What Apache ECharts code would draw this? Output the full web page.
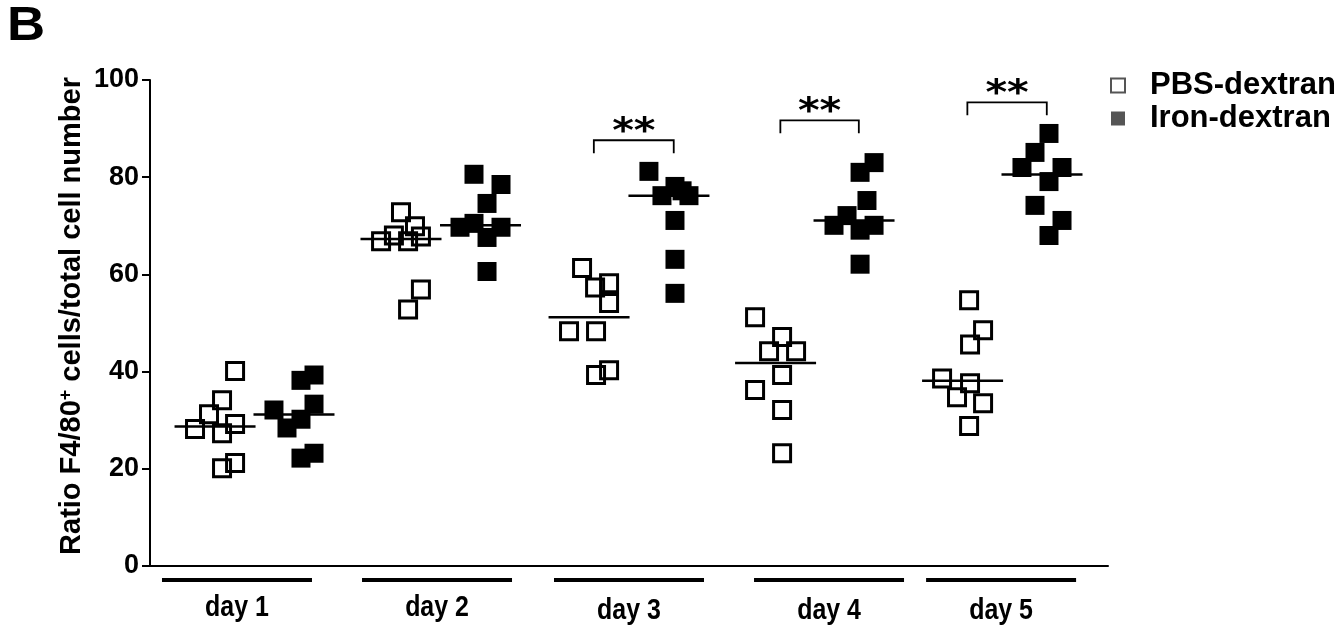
<!DOCTYPE html>
<html>
<head>
<meta charset="utf-8">
<script src="https://cdn.jsdelivr.net/npm/echarts@6/dist/echarts.min.js"></script>
<style>
  html, body { margin: 0; padding: 0; background: #fff; }
  #chart { width: 1344px; height: 625px; }
</style>
</head>
<body>
<div id="chart"></div>
<script>
// ---------------- data ----------------
const days = ['day 1', 'day 2', 'day 3', 'day 4', 'day 5'];
// position of each day label on the x value axis
const dayPos = [0.454, 1.498, 2.500, 3.544, 4.442];

// PBS-dextran: x positions (jitter) and values per day
const pbsX = [
  [0.444, 0.376, 0.308, 0.235, 0.444, 0.376, 0.444, 0.376],
  [1.310, 1.383, 1.273, 1.414, 1.206, 1.347, 1.414, 1.347],
  [2.255, 2.323, 2.396, 2.396, 2.187, 2.328, 2.328, 2.396],
  [3.158, 3.299, 3.231, 3.372, 3.299, 3.158, 3.299, 3.299],
  [4.275, 4.348, 4.280, 4.134, 4.280, 4.212, 4.348, 4.275]
];
const pbsY = [
  [40.1, 34.1, 31.2, 28.2, 29.2, 27.3, 21.2, 20.1],
  [72.8, 69.9, 68.0, 67.8, 66.8, 66.8, 56.9, 52.8],
  [61.3, 57.3, 58.2, 54.1, 48.3, 48.3, 39.3, 40.3],
  [51.2, 47.1, 44.2, 44.2, 39.3, 36.2, 32.1, 23.2],
  [54.7, 48.5, 45.6, 38.6, 37.6, 34.7, 33.5, 28.8]
];
// Iron-dextran
const ironX = [
  [0.788, 0.856, 0.647, 0.856, 0.788, 0.715, 0.788, 0.856],
  [1.691, 1.832, 1.759, 1.691, 1.618, 1.832, 1.759, 1.759],
  [2.604, 2.740, 2.672, 2.813, 2.777, 2.740, 2.740, 2.740],
  [3.779, 3.706, 3.742, 3.638, 3.570, 3.706, 3.779, 3.706],
  [4.692, 4.619, 4.551, 4.760, 4.692, 4.619, 4.760, 4.692]
];
const ironY = [
  [38.2, 39.3, 32.1, 33.3, 30.2, 28.4, 22.2, 23.2],
  [80.6, 78.5, 74.6, 70.5, 69.7, 69.7, 67.6, 60.6],
  [81.2, 78.1, 76.2, 76.2, 77.2, 71.1, 63.1, 56.1],
  [83.0, 81.0, 75.2, 72.1, 70.1, 69.1, 70.1, 62.1],
  [89.0, 85.1, 82.0, 82.0, 79.1, 74.2, 71.1, 68.0]
];
// significance brackets: day index, bracket height, label
const sigDays = [2, 3, 4];
const sigTop = [87.6, 91.7, 95.4];
const sigLabel = ['**', '**', '**'];

const seriesNames = ['PBS-dextran', 'Iron-dextran'];
const yMin = 0, yMax = 100, yStep = 20;
const yTitle = 'Ratio F4/80+ cells/total cell number';
const panelLetter = 'B';

// ---------------- helpers ----------------
function median(a) {
  const s = a.slice().sort((p, q) => p - q);
  const n = s.length;
  return n % 2 ? s[(n - 1) / 2] : (s[n / 2 - 1] + s[n / 2]) / 2;
}
function mid(a) { return (Math.min(...a) + Math.max(...a)) / 2; }

const pbsPts = [], ironPts = [];
days.forEach((d, i) => {
  pbsX[i].forEach((x, j) => pbsPts.push([x, pbsY[i][j]]));
  ironX[i].forEach((x, j) => ironPts.push([x, ironY[i][j]]));
});
const medians = [];
days.forEach((d, i) => {
  medians.push([mid(pbsX[i]), median(pbsY[i])]);
  medians.push([mid(ironX[i]), median(ironY[i])]);
});
const brackets = sigDays.map((di, k) => [mid(pbsX[di]) + 0.025, mid(ironX[di]) + 0.025, sigTop[k], k]);

const FONT = '"Liberation Sans", Arial, Helvetica, sans-serif';
const chart = echarts.init(document.getElementById('chart'), null, { renderer: 'canvas' });

const titleParts = yTitle.split('+');

const option = {
  animation: false,
  backgroundColor: '#fff',
  grid: { left: 150, right: 236, top: 80, bottom: 59, containLabel: false },
  graphic: [{
    type: 'text', left: 7, top: 3, scaleX: 1.1,
    style: { text: panelLetter, font: 'bold 48px ' + FONT, fill: '#000' }
  }],
  legend: {
    orient: 'vertical',
    left: 1105, top: 65,
    itemWidth: 14, itemHeight: 14, itemGap: 2,
    textStyle: { fontFamily: FONT, fontWeight: 'bold', fontSize: 31, color: '#000', padding: [0, 0, 0, 20] },
    data: [
      { name: seriesNames[0], icon: 'rect', itemStyle: { color: '#fff', borderColor: '#555', borderWidth: 2, opacity: 1 } },
      { name: seriesNames[1], icon: 'rect', itemStyle: { color: '#555', borderWidth: 0, opacity: 1 } }
    ]
  },
  xAxis: {
    type: 'value', min: 0, max: 5,
    axisLine: { show: true, lineStyle: { color: '#000', width: 2 } },
    axisTick: { show: false }, axisLabel: { show: false }, splitLine: { show: false }
  },
  yAxis: {
    type: 'value', min: yMin, max: yMax, interval: yStep,
    name: '{a|' + titleParts[0] + '}{s|+}{a|' + titleParts[1] + '}',
    nameLocation: 'middle', nameGap: 63, nameRotate: 90, nameMoveOverlap: false,
    nameTextStyle: {
      padding: [0, 0, 0, 14],
      rich: {
        a: { fontFamily: FONT, fontWeight: 'bold', fontSize: 29, color: '#000' },
        s: { fontFamily: FONT, fontWeight: 'bold', fontSize: 18, color: '#000', padding: [0, 0, 12, 0] }
      }
    },
    axisLine: { show: true, lineStyle: { color: '#000', width: 2 } },
    axisTick: { show: true, length: 8, inside: false, lineStyle: { color: '#000', width: 2 } },
    axisLabel: { fontFamily: FONT, fontWeight: 'bold', fontSize: 27, color: '#000', margin: 11 },
    splitLine: { show: false }
  },
  series: [
    {
      name: seriesNames[0], type: 'scatter', symbol: 'rect', symbolSize: 17,
      itemStyle: { color: 'transparent', borderColor: '#000', borderWidth: 3, opacity: 1 },
      data: pbsPts, z: 3
    },
    {
      name: seriesNames[1], type: 'scatter', symbol: 'rect', symbolSize: 19,
      itemStyle: { color: '#000', opacity: 1 },
      data: ironPts, z: 3
    },
    {
      type: 'custom', name: 'median', data: medians, clip: false, z: 4,
      renderItem: function (params, api) {
        const c = api.coord([api.value(0), api.value(1)]);
        return {
          type: 'line',
          shape: { x1: c[0] - 40.5, y1: c[1], x2: c[0] + 40.5, y2: c[1] },
          style: { stroke: '#000', lineWidth: 2.5 }
        };
      }
    },
    {
      type: 'custom', name: 'sig', data: brackets, clip: false, z: 4,
      renderItem: function (params, api) {
        const p1 = api.coord([api.value(0), api.value(2)]);
        const p2 = api.coord([api.value(1), api.value(2)]);
        const k = api.value(3);
        return {
          type: 'group',
          children: [
            {
              type: 'polyline',
              shape: { points: [[p1[0], p1[1] + 13], [p1[0], p1[1]], [p2[0], p2[1]], [p2[0], p2[1] + 13]] },
              style: { stroke: '#000', lineWidth: 1.8, fill: null }
            },
            {
              type: 'text',
              x: (p1[0] + p2[0]) / 2, y: p1[1] - 8,
              scaleX: 1.15,
              style: {
                x: 0, y: 0,
                text: sigLabel[k], align: 'center', verticalAlign: 'middle',
                font: 'bold 36px "DejaVu Sans", sans-serif', fill: '#000'
              }
            }
          ]
        };
      }
    },
    {
      type: 'custom', name: 'days', data: dayPos.map((p, i) => [p, i]), clip: false, z: 4,
      renderItem: function (params, api) {
        const c = api.coord([api.value(0), 0]);
        const i = api.value(1);
        return {
          type: 'group',
          children: [
            {
              type: 'line',
              shape: { x1: c[0] - 75, y1: c[1] + 14, x2: c[0] + 75, y2: c[1] + 14 },
              style: { stroke: '#000', lineWidth: 4 }
            },
            {
              type: 'text',
              x: c[0], y: c[1] + 42 + (i >= 2 ? 3 : 0),
              scaleX: 0.86,
              style: {
                x: 0, y: 0, text: days[i], align: 'center', verticalAlign: 'middle',
                font: 'bold 29px ' + FONT, fill: '#000'
              }
            }
          ]
        };
      }
    }
  ]
};
chart.setOption(option);
</script>
</body>
</html>
